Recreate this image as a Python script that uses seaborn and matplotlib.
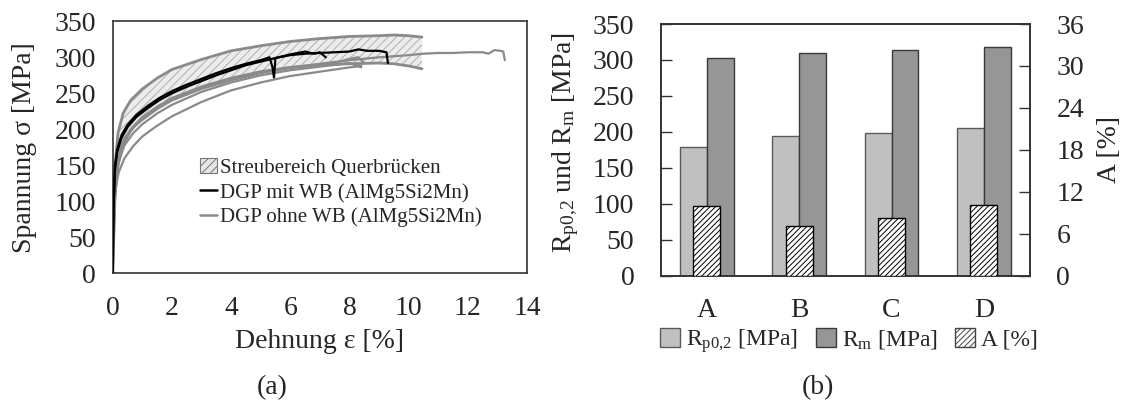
import matplotlib
matplotlib.use("Agg")
import matplotlib.pyplot as plt
from matplotlib.patches import Patch
from matplotlib.lines import Line2D
import seaborn as sns
import pandas as pd

# ---------------- data: (a) stress-strain curves ----------------
band_strain = [0, 0.08, 0.18, 0.35, 0.6, 1, 1.5, 2, 3, 4, 5, 6, 7, 8, 9, 9.5, 10, 10.45]
band_upper = [0, 150, 195, 222, 240, 256, 271, 283, 297, 309, 316, 322, 326, 329, 330, 331, 330, 328]
band_lower = [0, 110, 150, 178, 198, 216, 231, 243, 259, 271, 280, 286, 289, 291, 292, 291, 288, 284]

mit_wb_1_strain = [0, 0.03, 0.08, 0.15, 0.3, 0.5, 0.8, 1.2, 1.6, 2, 2.5, 3, 3.5, 4, 4.5, 5, 5.5, 6,
                   6.5, 7, 7.5, 8, 8.3, 8.6, 9, 9.25, 9.3]
mit_wb_1_stress = [0, 90, 145, 168, 188, 203, 217, 230, 241, 250, 259, 267, 275, 282, 289, 294, 299, 303,
                   305, 306, 307, 308, 311, 309, 309, 307, 292]
mit_wb_2_strain = [0, 0.03, 0.08, 0.15, 0.3, 0.5, 0.8, 1.2, 1.6, 2, 2.5, 3, 3.5, 4, 4.5, 5, 5.3, 5.4,
                   5.45, 5.5, 6, 6.5, 6.8, 7, 7.2]
mit_wb_2_stress = [0, 95, 150, 172, 192, 206, 220, 233, 244, 253, 262, 270, 278, 285, 291, 296, 300, 286,
                   272, 299, 304, 308, 305, 307, 300]

ohne_wb_1_strain = [0, 0.05, 0.1, 0.2, 0.4, 0.7, 1, 1.5, 2, 3, 4, 5, 6, 7, 8, 9, 10, 10.5, 11, 11.5,
                    12, 12.5, 12.7, 12.9, 13.1, 13.2, 13.25]
ohne_wb_1_stress = [0, 90, 128, 160, 185, 203, 215, 230, 242, 258, 270, 280, 286, 291, 296, 300, 303, 305,
                    306, 306, 307, 307, 305, 310, 309, 308, 296]
ohne_wb_2_strain = [0, 0.05, 0.1, 0.2, 0.4, 0.7, 1, 1.5, 2, 3, 4, 5, 6, 7, 8, 8.4]
ohne_wb_2_stress = [0, 85, 125, 155, 178, 195, 207, 222, 234, 252, 265, 275, 282, 287, 292, 286]
ohne_wb_3_strain = [0, 0.05, 0.1, 0.2, 0.4, 0.7, 1, 1.5, 2, 3, 4, 5, 6, 7, 8, 8.4]
ohne_wb_3_stress = [0, 80, 118, 140, 160, 177, 190, 205, 218, 238, 254, 265, 274, 280, 286, 288]
ohne_wb_4_strain = [0, 0.05, 0.1, 0.2, 0.4, 0.7, 1, 1.5, 2, 3, 4, 5, 6, 7, 7.6, 8, 8.3, 8.5]
ohne_wb_4_stress = [0, 88, 130, 165, 188, 203, 213, 228, 240, 256, 268, 278, 285, 290, 293, 298, 300, 292]

# ---------------- data: (b) bars ----------------
categories = ["A", "B", "C", "D"]
rp02_mpa = [179, 194, 199, 205]
rm_mpa = [303, 309, 314, 318]
a_percent = [10.0, 7.1, 8.3, 10.1]

# ---------------- style ----------------
sns.set_style("white")
plt.rcParams["font.family"] = ["Liberation Serif", "DejaVu Serif"]
plt.rcParams["mathtext.fontset"] = "custom"
plt.rcParams["mathtext.rm"] = "Liberation Serif"
plt.rcParams["mathtext.it"] = "Liberation Serif:italic"
plt.rcParams["hatch.linewidth"] = 0.7

FS = 20
SPINE = "#333333"
GREY_LINE = "#8a8a8a"

fig = plt.figure(figsize=(11.22, 4.05), dpi=100)
ax1 = fig.add_axes([112.7 / 1122, (405 - 273.3) / 405, 414.3 / 1122, 252 / 405])
ax2 = fig.add_axes([660.7 / 1122, (405 - 275.5) / 405, 369.3 / 1122, 251.5 / 405])

# ---------------- (a) ----------------
ax1.fill_between(band_strain, band_lower, band_upper, facecolor="#ececec",
                 edgecolor="#b0b0b0", hatch="////", linewidth=0, zorder=1)
sns.lineplot(x=band_strain, y=band_upper, ax=ax1, color=GREY_LINE, lw=2.0, sort=False, zorder=2)
sns.lineplot(x=band_strain, y=band_lower, ax=ax1, color=GREY_LINE, lw=2.0, sort=False, zorder=2)
for sx, sy in [(ohne_wb_1_strain, ohne_wb_1_stress), (ohne_wb_2_strain, ohne_wb_2_stress),
               (ohne_wb_3_strain, ohne_wb_3_stress), (ohne_wb_4_strain, ohne_wb_4_stress)]:
    sns.lineplot(x=sx, y=sy, ax=ax1, color=GREY_LINE, lw=1.6, sort=False, zorder=3)
for sx, sy in [(mit_wb_1_strain, mit_wb_1_stress), (mit_wb_2_strain, mit_wb_2_stress)]:
    sns.lineplot(x=sx, y=sy, ax=ax1, color="black", lw=1.6, sort=False, zorder=4)

ax1.set_xlim(0, 14)
ax1.set_ylim(0, 350)
ax1.set_xticks(range(0, 15, 2))
ax1.set_yticks(range(0, 351, 50))
ax1.tick_params(axis="both", direction="in", length=7, width=1, color=SPINE, labelsize=FS)
ax1.tick_params(axis="x", pad=16)
ax1.tick_params(axis="y", pad=12)
ax1.set_xlabel("Dehnung ε [%]", fontsize=FS)
ax1.set_ylabel("Spannung σ [MPa]", fontsize=FS)
ax1.xaxis.set_label_coords(0.5, -0.222)
ax1.yaxis.set_label_coords(-0.183, 0.5)
for s in ax1.spines.values():
    s.set_color(SPINE)
    s.set_linewidth(1.2)

leg1_handles = [
    Patch(facecolor="#e6e6e6", edgecolor="#777777", hatch="////", linewidth=0.8),
    Line2D([0], [0], color="black", lw=1.8),
    Line2D([0], [0], color=GREY_LINE, lw=1.8),
]
leg1_labels = ["Streubereich Querbrücken", "DGP mit WB (AlMg5Si2Mn)", "DGP ohne WB (AlMg5Si2Mn)"]
ax1.legend(leg1_handles, leg1_labels, loc="center left", bbox_to_anchor=(0.21, 0.32),
           frameon=False, fontsize=15, handlelength=0.85, handleheight=0.75,
           handletextpad=0.12, labelspacing=0.22, borderaxespad=0, borderpad=0)

# ---------------- (b) ----------------
df = pd.DataFrame({
    "Probe": categories * 2,
    "Kennwert": ["Rp"] * len(categories) + ["Rm"] * len(categories),
    "MPa": rp02_mpa + rm_mpa,
})
RP_FACE, RP_EDGE = "#c0c0c0", "#5a5a5a"
RM_FACE, RM_EDGE = "#969696", "#3a3a3a"
sns.barplot(data=df, x="Probe", y="MPa", hue="Kennwert", palette=[RP_FACE, RM_FACE],
            width=0.58, saturation=1, legend=False, ax=ax2, linewidth=1.0, edgecolor=RP_EDGE, zorder=2)
for p in ax2.patches:
    fc = p.get_facecolor()
    if abs(fc[0] - 0x96 / 255) < 0.02:
        p.set_edgecolor(RM_EDGE)

ax2r = ax2.twinx()
sns.barplot(x=categories, y=a_percent, color="white", saturation=1, width=0.29, ax=ax2r,
            edgecolor="black", linewidth=1.0, hatch="//////", zorder=3)

ax2.set_xlim(-0.5, 3.5)
ax2r.set_xlim(-0.5, 3.5)
ax2.set_ylim(0, 350)
ax2r.set_ylim(0, 36)
ax2.set_yticks(range(0, 351, 50))
ax2r.set_yticks(range(0, 37, 6))
ax2.set_xticks(range(len(categories)))
ax2.set_xticklabels(categories)
ax2.set_xticks([0.5, 1.5, 2.5], minor=True)
ax2.tick_params(axis="x", which="major", length=0, pad=16, labelsize=FS)
ax2.tick_params(axis="x", which="minor", direction="in", length=8, width=1, color=SPINE)
ax2.tick_params(axis="y", direction="in", length=8, width=1, color=SPINE, labelsize=FS, pad=19)
ax2r.tick_params(axis="y", direction="in", length=8, width=1, color=SPINE, labelsize=FS, pad=19)
ax2.set_xlabel("")
ax2r.set_xlabel("")
ax2.set_ylabel(r"R$_{\mathrm{p0{,}2}}$ und R$_{\mathrm{m}}$ [MPa]", fontsize=FS)
ax2r.set_ylabel("A [%]", fontsize=FS)
ax2.yaxis.set_label_coords(-0.215, 0.53)
ax2r.yaxis.set_label_coords(1.181, 0.5)
for a in (ax2, ax2r):
    for s in a.spines.values():
        s.set_color(SPINE)
        s.set_linewidth(1.2)

leg2_handles = [
    Patch(facecolor=RP_FACE, edgecolor=RP_EDGE, linewidth=1),
    Patch(facecolor=RM_FACE, edgecolor=RM_EDGE, linewidth=1),
    Patch(facecolor="white", edgecolor="#444444", hatch="//////", linewidth=1),
]
leg2_labels = [r"R$_{\mathrm{p0{,}2}}$ [MPa]", r"R$_{\mathrm{m}}$ [MPa]", "A [%]"]
ax2.legend(leg2_handles, leg2_labels, loc="center", bbox_to_anchor=(0.51, -0.262), ncol=3,
           frameon=False, fontsize=17, handlelength=0.85, handleheight=0.85,
           handletextpad=0.25, columnspacing=0.75, borderaxespad=0, borderpad=0)

fig.text(272 / 1122, 1 - 388 / 405, "(a)", fontsize=FS, ha="center", va="center")
fig.text(818 / 1122, 1 - 388 / 405, "(b)", fontsize=FS, ha="center", va="center")

fig.savefig("out.png", dpi=100)
